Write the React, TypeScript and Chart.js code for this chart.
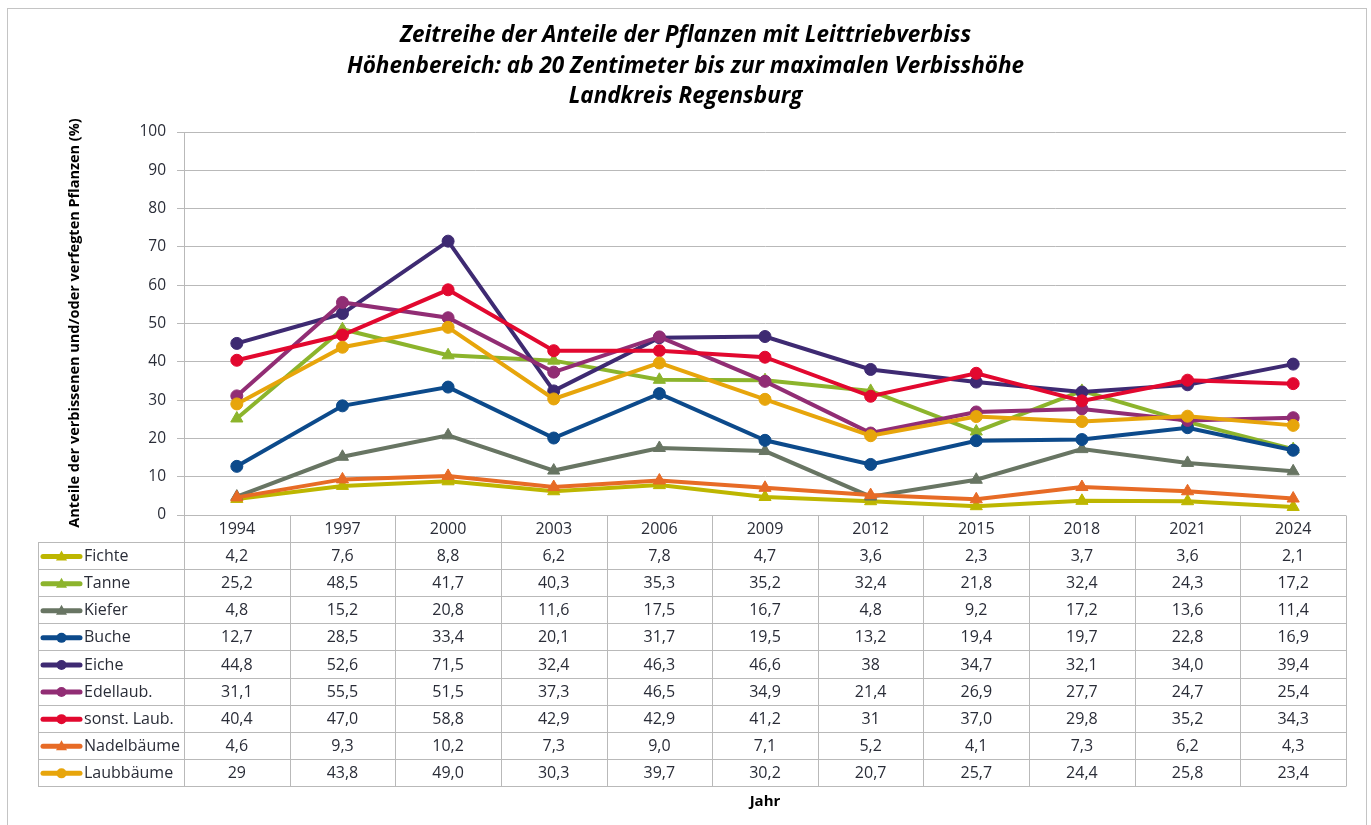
import React, { useEffect, useRef } from "react";
import { Chart, registerables } from "chart.js";

Chart.register(...registerables);

const years = ["1994", "1997", "2000", "2003", "2006", "2009", "2012", "2015", "2018", "2021", "2024"];

const fichte = ["4,2", "7,6", "8,8", "6,2", "7,8", "4,7", "3,6", "2,3", "3,7", "3,6", "2,1"];
const tanne = ["25,2", "48,5", "41,7", "40,3", "35,3", "35,2", "32,4", "21,8", "32,4", "24,3", "17,2"];
const kiefer = ["4,8", "15,2", "20,8", "11,6", "17,5", "16,7", "4,8", "9,2", "17,2", "13,6", "11,4"];
const buche = ["12,7", "28,5", "33,4", "20,1", "31,7", "19,5", "13,2", "19,4", "19,7", "22,8", "16,9"];
const eiche = ["44,8", "52,6", "71,5", "32,4", "46,3", "46,6", "38", "34,7", "32,1", "34,0", "39,4"];
const edellaub = ["31,1", "55,5", "51,5", "37,3", "46,5", "34,9", "21,4", "26,9", "27,7", "24,7", "25,4"];
const sonstLaub = ["40,4", "47,0", "58,8", "42,9", "42,9", "41,2", "31", "37,0", "29,8", "35,2", "34,3"];
const nadelbaeume = ["4,6", "9,3", "10,2", "7,3", "9,0", "7,1", "5,2", "4,1", "7,3", "6,2", "4,3"];
const laubbaeume = ["29", "43,8", "49,0", "30,3", "39,7", "30,2", "20,7", "25,7", "24,4", "25,8", "23,4"];

const seriesNames = ["Fichte", "Tanne", "Kiefer", "Buche", "Eiche", "Edellaub.", "sonst. Laub.", "Nadelbäume", "Laubbäume"];
const seriesValues = [fichte, tanne, kiefer, buche, eiche, edellaub, sonstLaub, nadelbaeume, laubbaeume];
const seriesColors = ["#BDB600", "#8CB42C", "#687563", "#0C4A8B", "#3E2A72", "#912D74", "#E2082F", "#E76B26", "#E7A50B"];
const seriesMarkers = ["triangle", "triangle", "triangle", "circle", "circle", "circle", "circle", "triangle", "circle"];

const titleLines = [
  "Zeitreihe der Anteile der Pflanzen mit Leittriebverbiss",
  "Höhenbereich: ab 20 Zentimeter bis zur maximalen Verbisshöhe",
  "Landkreis Regensburg",
];
const yAxisTitle = "Anteile der verbissenen und/oder verfegten Pflanzen (%)";
const xAxisTitle = "Jahr";

const toNum = (s: string) => parseFloat(s.replace(",", "."));

const FONT = "'Open Sans', sans-serif";
const GRID = "#B9B9B9";
const TEXT = "#2A2D38";

const decorPlugin = {
  id: "decor",
  beforeDraw(chart: any) {
    const ctx = chart.ctx;
    ctx.save();
    ctx.fillStyle = "#ffffff";
    ctx.fillRect(0, 0, chart.width, chart.height);
    ctx.strokeStyle = "#C4C4C4";
    ctx.lineWidth = 1;
    ctx.strokeRect(7.5, 8.5, 1359, 840);

    // title
    ctx.fillStyle = "#000000";
    ctx.font = `italic bold 22.5px ${FONT}`;
    ctx.textAlign = "center";
    ctx.textBaseline = "middle";
    const cx = chart.width / 2;
    titleLines.forEach((t, i) => ctx.fillText(t, cx, 36 + i * 30.5));

    // y title
    ctx.save();
    ctx.translate(75, 323);
    ctx.rotate(-Math.PI / 2);
    ctx.font = `bold 14.5px ${FONT}`;
    ctx.fillText(yAxisTitle, 0, 0);
    ctx.restore();
    ctx.restore();
  },
  beforeDatasetsDraw(chart: any) {
    const ctx = chart.ctx;
    const area = chart.chartArea;
    const xs = chart.scales.x;
    const n = years.length;
    const colW = (area.right - area.left) / n;
    const tableLeft = 38;
    const headTop = area.bottom;
    const headH = 27;
    const rowH = 27.1;
    const rowsTop = headTop + headH;
    const tableBottom = rowsTop + rowH * seriesNames.length;

    ctx.save();
    ctx.strokeStyle = GRID;
    ctx.lineWidth = 1;
    const a = (v: number) => Math.round(v) + 0.5;

    ctx.beginPath();
    ctx.moveTo(area.left, a(headTop));
    ctx.lineTo(area.right, a(headTop));
    for (let r = 0; r <= seriesNames.length; r++) {
      const y = a(rowsTop + r * rowH);
      ctx.moveTo(tableLeft, y);
      ctx.lineTo(area.right, y);
    }
    ctx.moveTo(a(tableLeft), a(rowsTop));
    ctx.lineTo(a(tableLeft), a(tableBottom));
    for (let c = 0; c <= n; c++) {
      const x = a(area.left + c * colW);
      ctx.moveTo(x, a(headTop));
      ctx.lineTo(x, a(tableBottom));
    }
    ctx.stroke();

    ctx.fillStyle = TEXT;
    ctx.font = `16px ${FONT}`;
    ctx.textBaseline = "middle";
    ctx.textAlign = "center";
    years.forEach((y, i) => {
      ctx.fillText(y, xs.getPixelForValue(i), headTop + headH / 2 + 1);
    });

    seriesNames.forEach((name, r) => {
      const cy = rowsTop + r * rowH + rowH / 2 + 1;
      const color = seriesColors[r];
      ctx.strokeStyle = color;
      ctx.lineWidth = 5;
      ctx.lineCap = "round";
      ctx.beginPath();
      ctx.moveTo(43, cy);
      ctx.lineTo(80, cy);
      ctx.stroke();
      ctx.fillStyle = color;
      ctx.beginPath();
      if (seriesMarkers[r] === "circle") {
        ctx.arc(61.5, cy, 5, 0, Math.PI * 2);
      } else {
        ctx.moveTo(61.5, cy - 6);
        ctx.lineTo(67, cy + 4);
        ctx.lineTo(56, cy + 4);
        ctx.closePath();
      }
      ctx.fill();

      ctx.fillStyle = TEXT;
      ctx.textAlign = "left";
      ctx.fillText(name, 84, cy);
      ctx.textAlign = "center";
      seriesValues[r].forEach((v, i) => {
        ctx.fillText(v, xs.getPixelForValue(i), cy);
      });
    });

    ctx.font = `bold 15px ${FONT}`;
    ctx.fillStyle = "#000000";
    ctx.fillText(xAxisTitle, (area.left + area.right) / 2, 802);
    ctx.restore();
  },
};

export default function App() {
  const ref = useRef<HTMLCanvasElement | null>(null);

  useEffect(() => {
    if (!ref.current) return;
    const datasets = seriesNames.map((name, i) => ({
      label: name,
      data: seriesValues[i].map(toNum),
      borderColor: seriesColors[i],
      backgroundColor: seriesColors[i],
      borderWidth: 4,
      pointStyle: seriesMarkers[i] as any,
      pointRadius: seriesMarkers[i] === "circle" ? 6 : 7,
      pointBorderWidth: 1,
      pointBorderColor: seriesColors[i],
      pointBackgroundColor: seriesColors[i],
      tension: 0,
      clip: false as any,
      order: seriesNames.length - i,
    }));
    const chart = new Chart(ref.current, {
      type: "line",
      data: { labels: years, datasets },
      options: {
        responsive: false,
        animation: false,
        layout: { padding: { left: 0, right: 25, top: 132, bottom: 310 } },
        plugins: { legend: { display: false }, title: { display: false }, tooltip: { enabled: false } },
        scales: {
          x: { type: "category", display: false, offset: true },
          y: {
            min: 0,
            max: 100,
            afterFit: (s: any) => {
              s.width = 184;
            },
            ticks: { stepSize: 10, padding: 11, color: TEXT, font: { family: "'Open Sans', sans-serif", size: 15.5 } },
            grid: { color: GRID, lineWidth: 1, tickLength: 7, drawTicks: true },
            border: { display: true, color: GRID },
          },
        },
      },
      plugins: [decorPlugin],
    });
    return () => chart.destroy();
  }, []);

  return (
    <div style={{ position: "fixed", left: 0, top: 0, width: 1371, height: 825, background: "#fff" }}>
      <canvas ref={ref} width={1371} height={825} style={{ display: "block" }} />
    </div>
  );
}
